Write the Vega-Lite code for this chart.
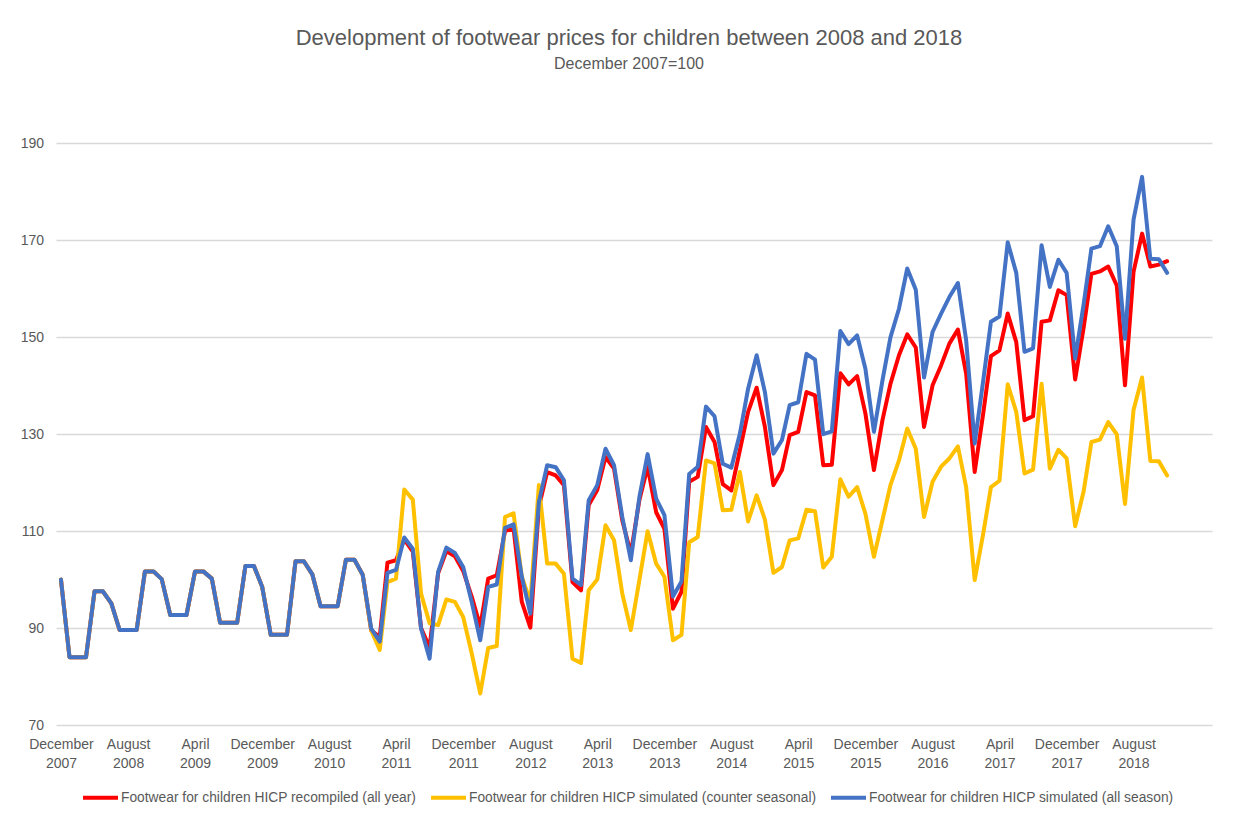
{
  "$schema": "https://vega.github.io/schema/vega-lite/v6.json",
  "autosize": {"type": "none"},
  "padding": {"left": 56, "top": 95, "right": 44, "bottom": 89},
  "width": 1156,
  "height": 630,
  "background": "white",
  "title": {
    "text": "Development of footwear prices for children between 2008 and 2018",
    "subtitle": "December 2007=100",
    "anchor": "middle",
    "dx": -5,
    "offset": 22,
    "font": "Liberation Sans",
    "fontSize": 22,
    "fontWeight": "normal",
    "color": "#595959",
    "subtitleFont": "Liberation Sans",
    "subtitleFontSize": 16,
    "subtitleColor": "#595959",
    "subtitlePadding": 6
  },
  "config": {
    "view": {"stroke": null},
    "axis": {"labelFont": "Liberation Sans", "labelColor": "#595959", "labelFontSize": 13.5}
  },
  "data": {
    "values": [
      {"d":"2007-12-01","r":100,"y":100,"b":100},
      {"d":"2008-01-01","r":84,"y":84,"b":84},
      {"d":"2008-02-01","r":84,"y":84,"b":84},
      {"d":"2008-03-01","r":84,"y":84,"b":84},
      {"d":"2008-04-01","r":97.6,"y":97.6,"b":97.6},
      {"d":"2008-05-01","r":97.6,"y":97.6,"b":97.6},
      {"d":"2008-06-01","r":95.1,"y":95.1,"b":95.1},
      {"d":"2008-07-01","r":89.6,"y":89.6,"b":89.6},
      {"d":"2008-08-01","r":89.6,"y":89.6,"b":89.6},
      {"d":"2008-09-01","r":89.6,"y":89.6,"b":89.6},
      {"d":"2008-10-01","r":101.7,"y":101.7,"b":101.7},
      {"d":"2008-11-01","r":101.7,"y":101.7,"b":101.7},
      {"d":"2008-12-01","r":100.1,"y":100.1,"b":100.1},
      {"d":"2009-01-01","r":92.7,"y":92.7,"b":92.7},
      {"d":"2009-02-01","r":92.7,"y":92.7,"b":92.7},
      {"d":"2009-03-01","r":92.7,"y":92.7,"b":92.7},
      {"d":"2009-04-01","r":101.7,"y":101.7,"b":101.7},
      {"d":"2009-05-01","r":101.7,"y":101.7,"b":101.7},
      {"d":"2009-06-01","r":100.2,"y":100.2,"b":100.2},
      {"d":"2009-07-01","r":91.1,"y":91.1,"b":91.1},
      {"d":"2009-08-01","r":91.1,"y":91.1,"b":91.1},
      {"d":"2009-09-01","r":91.1,"y":91.1,"b":91.1},
      {"d":"2009-10-01","r":102.8,"y":102.8,"b":102.8},
      {"d":"2009-11-01","r":102.8,"y":102.8,"b":102.8},
      {"d":"2009-12-01","r":98.5,"y":98.5,"b":98.5},
      {"d":"2010-01-01","r":88.6,"y":88.6,"b":88.6},
      {"d":"2010-02-01","r":88.6,"y":88.6,"b":88.6},
      {"d":"2010-03-01","r":88.6,"y":88.6,"b":88.6},
      {"d":"2010-04-01","r":103.8,"y":103.8,"b":103.8},
      {"d":"2010-05-01","r":103.8,"y":103.8,"b":103.8},
      {"d":"2010-06-01","r":101.1,"y":101.1,"b":101.1},
      {"d":"2010-07-01","r":94.5,"y":94.5,"b":94.5},
      {"d":"2010-08-01","r":94.5,"y":94.5,"b":94.5},
      {"d":"2010-09-01","r":94.5,"y":94.5,"b":94.5},
      {"d":"2010-10-01","r":104.1,"y":104.1,"b":104.1},
      {"d":"2010-11-01","r":104.1,"y":104.1,"b":104.1},
      {"d":"2010-12-01","r":101,"y":101,"b":101},
      {"d":"2011-01-01","r":89.5,"y":89.5,"b":89.9},
      {"d":"2011-02-01","r":88.2,"y":85.5,"b":87.2},
      {"d":"2011-03-01","r":103.5,"y":99.5,"b":101.4},
      {"d":"2011-04-01","r":104,"y":100.2,"b":102},
      {"d":"2011-05-01","r":108.3,"y":118.6,"b":108.7},
      {"d":"2011-06-01","r":105.8,"y":116.5,"b":106.4},
      {"d":"2011-07-01","r":90,"y":97.1,"b":89.9},
      {"d":"2011-08-01","r":86,"y":91,"b":83.7},
      {"d":"2011-09-01","r":101.3,"y":90.6,"b":101.6},
      {"d":"2011-10-01","r":105.9,"y":95.9,"b":106.6},
      {"d":"2011-11-01","r":104.8,"y":95.4,"b":105.5},
      {"d":"2011-12-01","r":101.8,"y":92.3,"b":102.6},
      {"d":"2012-01-01","r":96.5,"y":84.8,"b":95.4},
      {"d":"2012-02-01","r":90.3,"y":76.5,"b":87.5},
      {"d":"2012-03-01","r":100.2,"y":85.9,"b":98.5},
      {"d":"2012-04-01","r":100.9,"y":86.3,"b":99},
      {"d":"2012-05-01","r":110,"y":112.9,"b":110.7},
      {"d":"2012-06-01","r":110.6,"y":113.7,"b":111.4},
      {"d":"2012-07-01","r":95.4,"y":100.6,"b":100.6},
      {"d":"2012-08-01","r":90.1,"y":95.4,"b":93},
      {"d":"2012-09-01","r":115,"y":119.5,"b":116},
      {"d":"2012-10-01","r":122.2,"y":103.3,"b":123.6},
      {"d":"2012-11-01","r":121.5,"y":103.3,"b":123.2},
      {"d":"2012-12-01","r":119.5,"y":101.2,"b":120.5},
      {"d":"2013-01-01","r":99.5,"y":83.7,"b":100.2},
      {"d":"2013-02-01","r":97.8,"y":82.8,"b":98.9},
      {"d":"2013-03-01","r":115.4,"y":97.8,"b":116.4},
      {"d":"2013-04-01","r":118.5,"y":100,"b":119.5},
      {"d":"2013-05-01","r":125.3,"y":111.2,"b":127},
      {"d":"2013-06-01","r":122.9,"y":108.1,"b":123.6},
      {"d":"2013-07-01","r":112.2,"y":97.1,"b":112.9},
      {"d":"2013-08-01","r":105.4,"y":89.6,"b":104},
      {"d":"2013-09-01","r":116.4,"y":99.9,"b":117},
      {"d":"2013-10-01","r":123.3,"y":110,"b":125.9},
      {"d":"2013-11-01","r":113.9,"y":103.3,"b":116.7},
      {"d":"2013-12-01","r":110.5,"y":100.6,"b":113.3},
      {"d":"2014-01-01","r":94,"y":87.5,"b":96.5},
      {"d":"2014-02-01","r":97.5,"y":88.6,"b":99.6},
      {"d":"2014-03-01","r":120.2,"y":107.7,"b":121.8},
      {"d":"2014-04-01","r":121.2,"y":108.8,"b":123.3},
      {"d":"2014-05-01","r":131.5,"y":124.6,"b":135.7},
      {"d":"2014-06-01","r":128.4,"y":124,"b":133.7},
      {"d":"2014-07-01","r":119.7,"y":114.3,"b":123.9},
      {"d":"2014-08-01","r":118.4,"y":114.4,"b":123.1},
      {"d":"2014-09-01","r":126.7,"y":122.2,"b":130.1},
      {"d":"2014-10-01","r":134.6,"y":112,"b":139.4},
      {"d":"2014-11-01","r":139.6,"y":117.4,"b":146.3},
      {"d":"2014-12-01","r":131.5,"y":112.4,"b":138.7},
      {"d":"2015-01-01","r":119.5,"y":101.4,"b":126},
      {"d":"2015-02-01","r":122.6,"y":102.6,"b":128.8},
      {"d":"2015-03-01","r":129.8,"y":108.1,"b":136},
      {"d":"2015-04-01","r":130.5,"y":108.5,"b":136.6},
      {"d":"2015-05-01","r":138.7,"y":114.4,"b":146.6},
      {"d":"2015-06-01","r":138,"y":114.1,"b":145.4},
      {"d":"2015-07-01","r":123.6,"y":102.5,"b":130},
      {"d":"2015-08-01","r":123.7,"y":104.7,"b":130.6},
      {"d":"2015-09-01","r":142.6,"y":120.7,"b":151.3},
      {"d":"2015-10-01","r":140.3,"y":117.1,"b":148.6},
      {"d":"2015-11-01","r":142,"y":119.1,"b":150.4},
      {"d":"2015-12-01","r":134.3,"y":113.6,"b":143.5},
      {"d":"2016-01-01","r":122.6,"y":104.7,"b":130.5},
      {"d":"2016-02-01","r":132.9,"y":112.3,"b":141.1},
      {"d":"2016-03-01","r":140.4,"y":119.5,"b":150},
      {"d":"2016-04-01","r":146.3,"y":124.6,"b":155.9},
      {"d":"2016-05-01","r":150.6,"y":131.2,"b":164.2},
      {"d":"2016-06-01","r":147.9,"y":127,"b":159.8},
      {"d":"2016-07-01","r":131.5,"y":112.9,"b":141.7},
      {"d":"2016-08-01","r":140.1,"y":120.2,"b":151.1},
      {"d":"2016-09-01","r":144.2,"y":123.3,"b":154.9},
      {"d":"2016-10-01","r":148.7,"y":125,"b":158.3},
      {"d":"2016-11-01","r":151.6,"y":127.5,"b":161.2},
      {"d":"2016-12-01","r":142.5,"y":119.1,"b":149.4},
      {"d":"2017-01-01","r":122.2,"y":99.9,"b":128.1},
      {"d":"2017-02-01","r":134.3,"y":109.5,"b":141.1},
      {"d":"2017-03-01","r":146.1,"y":119.1,"b":153.2},
      {"d":"2017-04-01","r":147.3,"y":120.4,"b":154.3},
      {"d":"2017-05-01","r":154.9,"y":140.3,"b":169.6},
      {"d":"2017-06-01","r":149,"y":134.6,"b":163.3},
      {"d":"2017-07-01","r":132.9,"y":121.9,"b":147},
      {"d":"2017-08-01","r":133.7,"y":122.7,"b":147.7},
      {"d":"2017-09-01","r":153.2,"y":140.4,"b":169},
      {"d":"2017-10-01","r":153.5,"y":122.9,"b":160.4},
      {"d":"2017-11-01","r":159.7,"y":126.8,"b":166},
      {"d":"2017-12-01","r":158.7,"y":125,"b":163.3},
      {"d":"2018-01-01","r":141.3,"y":111,"b":145.6},
      {"d":"2018-02-01","r":152.1,"y":118.3,"b":156.9},
      {"d":"2018-03-01","r":163.1,"y":128.4,"b":168.3},
      {"d":"2018-04-01","r":163.6,"y":128.9,"b":168.8},
      {"d":"2018-05-01","r":164.6,"y":132.5,"b":172.9},
      {"d":"2018-06-01","r":160.7,"y":130,"b":168.8},
      {"d":"2018-07-01","r":140.1,"y":115.6,"b":149.7},
      {"d":"2018-08-01","r":163.5,"y":135,"b":174.3},
      {"d":"2018-09-01","r":171.4,"y":141.7,"b":183.1},
      {"d":"2018-10-01","r":164.6,"y":124.5,"b":166.2},
      {"d":"2018-11-01","r":165,"y":124.4,"b":166.1},
      {"d":"2018-12-01","r":165.7,"y":121.5,"b":163.3}
    ]
  },
  "encoding": {
    "x": {
      "field": "d",
      "type": "temporal",
      "scale": {
        "type": "utc",
        "domain": [
          {"year": 2007, "month": 11, "date": 13, "utc": true},
          {"year": 2019, "month": 5, "date": 13, "utc": true}
        ]
      },
      "axis": {
        "title": null,
        "domain": false,
        "ticks": false,
        "grid": false,
        "labelOverlap": false,
        "labelFlush": false,
        "labelAlign": "center",
        "labelBaseline": "top",
        "labelPadding": 12,
        "labelLineHeight": 19,
        "labelFontSize": 14,
        "values": [
          {"year": 2007, "month": 12, "date": 1, "utc": true},
          {"year": 2008, "month": 8, "date": 1, "utc": true},
          {"year": 2009, "month": 4, "date": 1, "utc": true},
          {"year": 2009, "month": 12, "date": 1, "utc": true},
          {"year": 2010, "month": 8, "date": 1, "utc": true},
          {"year": 2011, "month": 4, "date": 1, "utc": true},
          {"year": 2011, "month": 12, "date": 1, "utc": true},
          {"year": 2012, "month": 8, "date": 1, "utc": true},
          {"year": 2013, "month": 4, "date": 1, "utc": true},
          {"year": 2013, "month": 12, "date": 1, "utc": true},
          {"year": 2014, "month": 8, "date": 1, "utc": true},
          {"year": 2015, "month": 4, "date": 1, "utc": true},
          {"year": 2015, "month": 12, "date": 1, "utc": true},
          {"year": 2016, "month": 8, "date": 1, "utc": true},
          {"year": 2017, "month": 4, "date": 1, "utc": true},
          {"year": 2017, "month": 12, "date": 1, "utc": true},
          {"year": 2018, "month": 8, "date": 1, "utc": true}
        ],
        "labelExpr": "[utcFormat(datum.value, '%B'), utcFormat(datum.value, '%Y')]"
      }
    }
  },
  "layer": [
    {
      "mark": {"type": "line", "strokeWidth": 4, "strokeJoin": "round", "strokeCap": "round"},
      "encoding": {
        "y": {
          "field": "r",
          "type": "quantitative",
          "scale": {"domain": [70, 200], "nice": false, "zero": false},
          "axis": {
            "title": null,
            "domain": false,
            "ticks": false,
            "labelPadding": 12.5,
            "labelFontSize": 14,
            "values": [70, 90, 110, 130, 150, 170, 190],
            "gridColor": "#d9d9d9",
            "gridWidth": 1.3
          }
        },
        "color": {
          "datum": "r",
          "type": "nominal",
          "scale": {"domain": ["r", "y", "b"], "range": ["#FF0000", "#FFC000", "#4472C4"]},
          "legend": {
            "title": null,
            "orient": "none",
            "direction": "horizontal",
            "legendX": 25,
            "legendY": 683,
            "padding": 0,
            "symbolType": "stroke",
            "symbolSize": 1225,
            "symbolStrokeWidth": 4,
            "labelOffset": 1,
            "columnPadding": 6,
            "labelFont": "Liberation Sans",
            "labelFontSize": 13.8,
            "labelColor": "#595959",
            "labelLimit": 0,
            "labelExpr": "datum.value == 'r' ? 'Footwear for children HICP recompiled (all year)' : datum.value == 'y' ? 'Footwear for children HICP simulated (counter seasonal)' : 'Footwear for children HICP simulated (all season)'"
          }
        }
      }
    },
    {
      "mark": {"type": "line", "strokeWidth": 4, "strokeJoin": "round", "strokeCap": "round"},
      "encoding": {
        "y": {"field": "y", "type": "quantitative"},
        "color": {"datum": "y", "type": "nominal"}
      }
    },
    {
      "mark": {"type": "line", "strokeWidth": 4, "strokeJoin": "round", "strokeCap": "round"},
      "encoding": {
        "y": {"field": "b", "type": "quantitative"},
        "color": {"datum": "b", "type": "nominal"}
      }
    }
  ]
}
